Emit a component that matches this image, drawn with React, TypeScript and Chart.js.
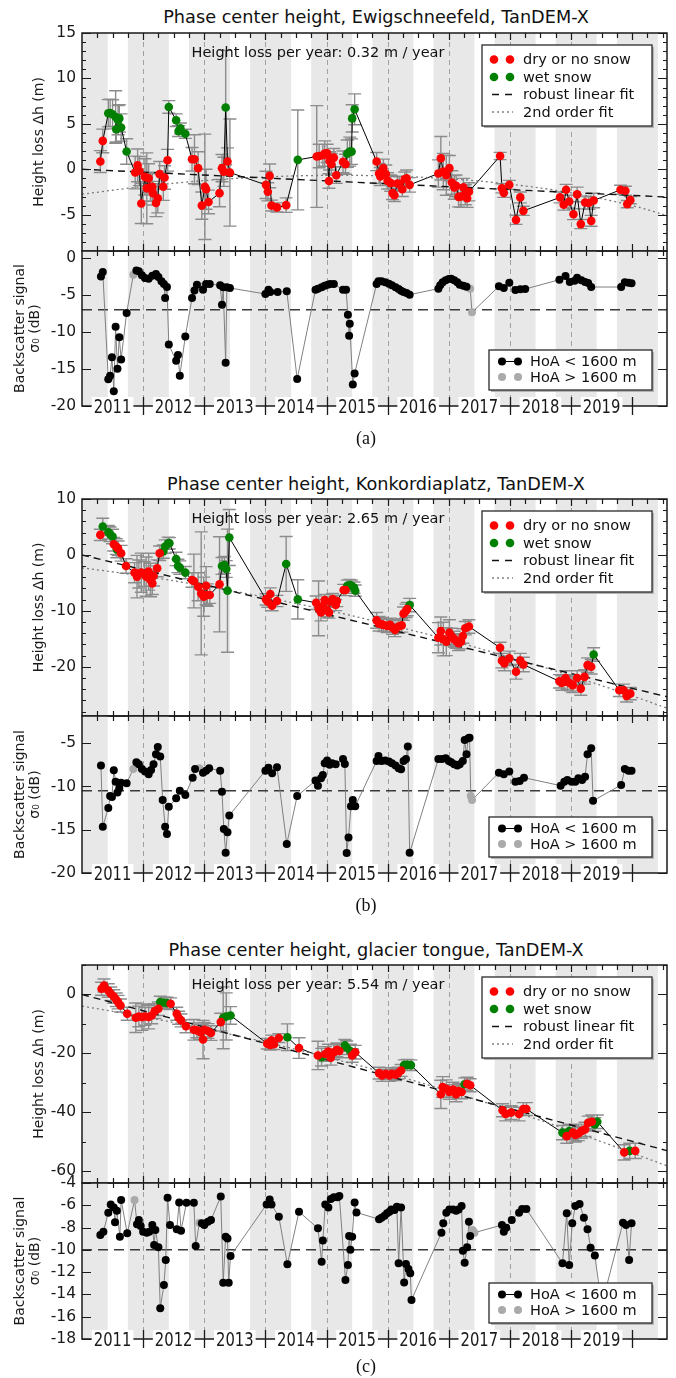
import { useEffect, useRef } from "react";
import { Chart, registerables } from "chart.js";

Chart.register(...registerables);

const SANS = '"DejaVu Sans", "Noto Sans", sans-serif';
const SERIF = '"Liberation Serif", "DejaVu Serif", serif';
Chart.defaults.font.family = SANS;

// ---------- shared time axis (decimal years) ----------
const timeStart = 2011.0;
const timeEnd = 2020.57;
const yearLabels = [2011, 2012, 2013, 2014, 2015, 2016, 2017, 2018, 2019];
const yearMarks = [2012, 2013, 2014, 2015, 2016, 2017, 2018, 2019, 2020];
const newYearGuides = [2012, 2013, 2014, 2015, 2016, 2017, 2018, 2019];
const winterSeasons: [number, number][] = [
  [2010.75, 2011.42], [2011.75, 2012.42], [2012.75, 2013.42], [2013.75, 2014.42],
  [2014.75, 2015.42], [2015.75, 2016.42], [2016.75, 2017.42], [2017.75, 2018.42],
  [2018.75, 2019.42], [2019.75, 2020.42],
];

// [decimal year, height loss (m), ± error (m), wet snow 0/1]
type HeightPt = [number, number, number, number];
// [decimal year, sigma0 (dB), HoA > 1600 m 0/1]
type SigmaPt = [number, number, number];

// ---------- Ewigschneefeld ----------
const ewigRate = 0.32;
const ewigThreshold = -7;
const ewigHeights: HeightPt[] = [
  [2011.30, 0.85, 1.2, 0], [2011.34, 3.12, 1.3, 0], [2011.43, 6.16, 1.5, 1], [2011.46, 6.2, 1.5, 1],
  [2011.50, 6.05, 1.6, 1], [2011.55, 5.75, 2.9, 1], [2011.56, 4.4, 1.4, 1], [2011.59, 5.4, 1.6, 1],
  [2011.61, 5.6, 1.5, 1], [2011.64, 4.6, 1.5, 1], [2011.73, 1.95, 1.4, 1], [2011.87, -0.36, 1.8, 0],
  [2011.91, 0.43, 1.8, 0], [2011.94, -0.2, 1.6, 0], [2011.97, -3.77, 2.2, 0], [2012.03, -0.84, 2.0, 0],
  [2012.06, -2.1, 3.9, 0], [2012.09, -1.0, 1.6, 0], [2012.12, -2.0, 1.5, 0], [2012.15, -1.93, 1.6, 0],
  [2012.16, -2.63, 1.3, 0], [2012.21, -3.72, 1.5, 0], [2012.24, -3.2, 1.6, 0], [2012.27, -0.54, 1.4, 0],
  [2012.33, -1.93, 1.5, 0], [2012.35, -0.91, 1.3, 0], [2012.40, 0.99, 1.2, 0], [2012.42, 6.86, 0.7, 1],
  [2012.54, 5.4, 0.7, 1], [2012.58, 4.2, 0.6, 1], [2012.61, 4.5, 0.6, 1], [2012.69, 3.9, 0.5, 1],
  [2012.80, 1.1, 1.3, 0], [2012.84, 1.1, 2.7, 0], [2012.90, 0.12, 1.8, 0], [2012.96, -4.0, 1.5, 0],
  [2013.01, -1.93, 5.8, 0], [2013.03, -2.2, 2.2, 0], [2013.07, -3.6, 1.3, 0], [2013.25, -2.63, 1.5, 0],
  [2013.29, 0.12, 1.5, 0], [2013.32, -0.28, 1.6, 0], [2013.35, 6.79, 6.3, 1], [2013.38, 0.85, 1.5, 0],
  [2013.42, -0.36, 5.9, 0], [2014.01, -1.72, 1.5, 0], [2014.04, -2.48, 1.0, 0], [2014.07, -0.73, 1.3, 0],
  [2014.10, -4.0, 0.6, 0], [2014.19, -4.2, 0.5, 0], [2014.34, -3.95, 0.8, 0], [2014.53, 1.03, 5.5, 1],
  [2014.84, 1.4, 5.6, 0], [2014.88, 1.46, 1.3, 0], [2014.94, 1.54, 1.2, 0], [2014.97, 1.72, 1.4, 0],
  [2015.01, 1.75, 1.0, 0], [2015.04, -1.29, 0.8, 0], [2015.05, 0.92, 1.0, 0], [2015.08, 0.55, 1.2, 0],
  [2015.12, 1.28, 1.0, 0], [2015.16, -0.66, 0.9, 0], [2015.27, 0.81, 1.2, 0], [2015.31, 0.55, 1.1, 0],
  [2015.34, 1.72, 1.5, 1], [2015.38, 1.94, 1.6, 1], [2015.41, 1.94, 1.4, 1], [2015.42, 5.6, 1.5, 1],
  [2015.46, 6.6, 1.7, 1], [2015.82, 0.85, 1.0, 0], [2015.86, -0.47, 1.1, 0], [2015.88, -0.8, 1.0, 0],
  [2015.93, 0.12, 1.0, 0], [2015.97, -0.54, 1.0, 0], [2016.00, -1.28, 0.9, 0], [2016.05, -1.53, 0.9, 0],
  [2016.08, -2.63, 0.7, 0], [2016.11, -2.85, 0.7, 0], [2016.16, -1.57, 0.8, 0], [2016.19, -1.64, 0.8, 0],
  [2016.24, -2.2, 0.8, 0], [2016.28, -1.1, 0.8, 0], [2016.31, -0.99, 0.9, 0], [2016.36, -1.72, 0.8, 0],
  [2016.83, -0.47, 1.5, 0], [2016.87, 1.21, 2.4, 0], [2016.91, -0.25, 2.0, 0], [2016.96, -0.66, 2.2, 0],
  [2017.01, 0.12, 1.4, 0], [2017.05, -1.46, 1.3, 0], [2017.09, -2.0, 1.3, 0], [2017.12, -1.83, 1.2, 0],
  [2017.16, -3.04, 1.1, 0], [2017.20, -3.0, 1.2, 0], [2017.24, -2.0, 1.0, 0], [2017.27, -2.8, 1.1, 0],
  [2017.30, -3.2, 1.0, 0], [2017.33, -2.48, 1.0, 0], [2017.84, 1.46, 0.4, 0], [2017.87, -2.1, 0.5, 0],
  [2017.90, -2.6, 0.5, 0], [2017.99, -1.72, 0.5, 0], [2018.10, -5.57, 0.5, 0], [2018.17, -3.1, 0.6, 0],
  [2018.22, -4.58, 0.5, 0], [2018.82, -3.1, 0.6, 0], [2018.88, -3.9, 0.6, 0], [2018.92, -2.26, 0.6, 0],
  [2018.97, -3.55, 0.7, 0], [2019.04, -4.95, 0.6, 0], [2019.10, -2.77, 0.8, 0], [2019.16, -6.04, 0.5, 0],
  [2019.23, -3.66, 0.7, 0], [2019.29, -3.72, 0.7, 0], [2019.33, -5.68, 0.6, 0], [2019.37, -3.44, 0.8, 0],
  [2019.81, -2.26, 0.5, 0], [2019.89, -2.37, 0.5, 0], [2019.92, -3.84, 0.4, 0], [2019.97, -3.4, 0.4, 0],
];
const ewigQuadFit: [number, number][] = [
  [2011, -2.75], [2012, -1.9], [2013, -1.25], [2014, -0.85], [2015, -0.68], [2016, -0.75],
  [2017, -1.05], [2018, -1.65], [2019, -2.6], [2020, -4.0], [2020.57, -5.1],
];
const ewigSigma: SigmaPt[] = [
  [2011.31, -2.48, 0], [2011.34, -1.89, 0], [2011.43, -16.4, 0], [2011.46, -15.9, 0], [2011.49, -13.4, 0],
  [2011.52, -18.0, 0], [2011.55, -9.3, 0], [2011.58, -14.96, 0], [2011.61, -10.7, 0], [2011.64, -13.7, 0],
  [2011.73, -7.43, 0], [2011.84, -2.25, 1], [2011.89, -1.67, 0], [2011.93, -1.8, 0], [2011.98, -2.34, 0],
  [2012.03, -2.7, 0], [2012.09, -2.8, 0], [2012.15, -2.39, 0], [2012.21, -2.16, 0], [2012.25, -2.57, 0],
  [2012.30, -3.15, 0], [2012.34, -3.51, 0], [2012.36, -5.4, 0], [2012.39, -3.92, 0], [2012.42, -11.7, 0],
  [2012.54, -13.9, 0], [2012.57, -13.1, 0], [2012.60, -15.9, 0], [2012.69, -10.6, 0], [2012.80, -5.4, 0],
  [2012.84, -4.4, 0], [2012.88, -3.6, 0], [2012.93, -3.8, 1], [2012.98, -4.28, 0], [2013.03, -3.51, 0],
  [2013.09, -3.51, 0], [2013.26, -3.69, 0], [2013.29, -6.3, 0], [2013.31, -3.96, 0], [2013.35, -14.15, 0],
  [2013.37, -3.96, 0], [2013.42, -4.05, 0], [2014.00, -4.86, 0], [2014.05, -4.28, 0], [2014.08, -4.6, 0],
  [2014.20, -4.6, 0], [2014.35, -4.5, 0], [2014.52, -16.35, 0], [2014.82, -4.28, 0], [2014.86, -4.14, 0],
  [2014.92, -3.96, 0], [2014.97, -3.74, 0], [2015.02, -3.6, 0], [2015.06, -3.51, 0], [2015.12, -3.51, 0],
  [2015.27, -4.28, 0], [2015.32, -4.28, 0], [2015.35, -7.66, 0], [2015.37, -10.5, 0], [2015.38, -8.87, 0],
  [2015.43, -17.1, 0], [2015.46, -15.6, 0], [2015.82, -3.51, 0], [2015.85, -3.15, 0], [2015.90, -3.15, 0],
  [2015.96, -3.29, 0], [2016.02, -3.47, 0], [2016.07, -3.69, 0], [2016.13, -3.96, 0], [2016.18, -4.19, 0],
  [2016.22, -4.41, 0], [2016.26, -4.6, 0], [2016.31, -4.73, 0], [2016.36, -4.95, 0], [2016.83, -4.14, 0],
  [2016.86, -3.69, 0], [2016.90, -3.29, 0], [2016.95, -3.02, 0], [2017.00, -2.84, 0], [2017.04, -2.8, 0],
  [2017.09, -3.02, 0], [2017.14, -3.29, 0], [2017.18, -3.6, 0], [2017.24, -3.74, 0], [2017.29, -3.87, 0],
  [2017.35, -4.14, 1], [2017.38, -7.34, 1], [2017.82, -3.83, 0], [2017.90, -4.05, 0], [2017.99, -3.33, 0],
  [2018.09, -4.32, 0], [2018.17, -4.23, 0], [2018.25, -4.19, 0], [2018.81, -2.93, 0], [2018.91, -2.43, 0],
  [2018.98, -3.24, 0], [2019.06, -3.06, 0], [2019.10, -2.66, 0], [2019.17, -3.02, 0], [2019.23, -3.24, 0],
  [2019.28, -3.38, 0], [2019.33, -3.92, 0], [2019.82, -3.92, 0], [2019.88, -3.29, 0], [2019.94, -3.33, 0],
  [2019.99, -3.42, 0],
];

// ---------- Konkordiaplatz ----------
const konkRate = 2.65;
const konkThreshold = -10.5;
const konkHeights: HeightPt[] = [
  [2011.30, 3.58, 1.0, 0], [2011.34, 5.07, 1.5, 1], [2011.43, 4.06, 1.2, 1], [2011.46, 3.7, 1.3, 1],
  [2011.50, 3.29, 1.3, 1], [2011.52, 1.91, 1.2, 0], [2011.56, 1.49, 1.4, 0], [2011.57, 1.0, 1.5, 1],
  [2011.59, 1.19, 1.3, 0], [2011.64, 0.3, 1.4, 0], [2011.72, -1.97, 1.3, 0], [2011.86, -3.17, 1.8, 0],
  [2011.90, -3.88, 3.8, 0], [2011.93, -3.4, 2.5, 0], [2011.97, -3.17, 3.5, 0], [2012.02, -3.4, 2.2, 0],
  [2012.05, -3.88, 3.5, 0], [2012.09, -2.99, 3.3, 0], [2012.12, -4.48, 3.0, 0], [2012.15, -5.08, 2.0, 0],
  [2012.17, -3.76, 1.8, 0], [2012.23, -2.39, 1.5, 0], [2012.27, 0.3, 1.3, 0], [2012.33, 0.6, 1.2, 1],
  [2012.36, 1.49, 1.2, 1], [2012.41, 2.09, 1.1, 1], [2012.43, 2.09, 1.0, 1], [2012.54, -0.72, 1.2, 1],
  [2012.57, -1.97, 1.2, 1], [2012.60, -2.27, 1.2, 1], [2012.69, -3.17, 1.1, 1], [2012.80, -4.48, 1.3, 0],
  [2012.83, -4.66, 4.8, 0], [2012.90, -5.68, 2.5, 0], [2012.95, -6.87, 11.0, 0], [2012.99, -7.47, 3.5, 0],
  [2013.03, -5.5, 3.4, 0], [2013.05, -7.17, 2.0, 0], [2013.09, -7.17, 1.5, 0], [2013.25, -5.26, 8.5, 0],
  [2013.29, -1.97, 1.5, 1], [2013.33, -1.79, 1.5, 1], [2013.36, -2.51, 1.5, 1], [2013.38, -6.39, 11.0, 1],
  [2013.41, 3.11, 5.0, 1], [2014.01, -7.95, 1.0, 0], [2014.04, -8.36, 1.0, 0], [2014.08, -6.99, 1.1, 0],
  [2014.11, -9.08, 0.9, 0], [2014.19, -8.24, 1.0, 0], [2014.34, -1.61, 4.9, 1], [2014.53, -7.95, 3.5, 1],
  [2014.83, -8.55, 1.2, 0], [2014.87, -9.56, 4.9, 0], [2014.91, -10.3, 1.5, 0], [2014.94, -9.14, 1.2, 0],
  [2014.97, -8.06, 1.0, 0], [2015.01, -9.86, 1.2, 0], [2015.04, -10.3, 1.0, 0], [2015.06, -8.36, 1.0, 0],
  [2015.10, -7.89, 1.0, 0], [2015.15, -8.96, 1.0, 0], [2015.17, -8.24, 1.0, 0], [2015.28, -6.27, 1.0, 0],
  [2015.31, -6.27, 1.0, 0], [2015.34, -5.5, 1.0, 1], [2015.38, -5.38, 1.0, 1], [2015.41, -5.5, 1.0, 1],
  [2015.45, -5.85, 1.0, 1], [2015.47, -6.39, 1.0, 1], [2015.82, -11.7, 1.4, 0], [2015.86, -12.3, 1.3, 0],
  [2015.90, -12.4, 1.2, 0], [2015.93, -12.5, 1.2, 0], [2015.99, -12.7, 1.2, 0], [2016.04, -12.5, 1.2, 0],
  [2016.08, -13.0, 1.2, 0], [2016.12, -13.4, 1.2, 0], [2016.18, -12.8, 1.2, 0], [2016.23, -12.6, 1.2, 0],
  [2016.26, -10.5, 1.2, 0], [2016.30, -10.0, 1.2, 0], [2016.32, -9.68, 1.2, 0], [2016.36, -8.96, 1.2, 1],
  [2016.83, -14.8, 2.7, 0], [2016.87, -13.6, 2.5, 0], [2016.91, -15.05, 3.0, 0], [2016.96, -15.5, 2.5, 0],
  [2017.01, -13.9, 2.3, 0], [2017.05, -14.6, 1.5, 0], [2017.09, -15.05, 1.4, 0], [2017.12, -15.4, 1.3, 0],
  [2017.16, -15.8, 1.3, 0], [2017.20, -15.5, 1.3, 0], [2017.23, -14.5, 1.3, 0], [2017.27, -13.1, 1.2, 0],
  [2017.33, -12.8, 1.2, 0], [2017.84, -16.6, 1.0, 0], [2017.87, -18.9, 1.3, 0], [2017.91, -19.4, 1.3, 0],
  [2017.99, -18.5, 1.3, 0], [2018.10, -20.9, 1.3, 0], [2018.17, -18.9, 1.3, 0], [2018.22, -19.6, 1.3, 0],
  [2018.81, -22.6, 1.2, 0], [2018.85, -22.9, 1.3, 0], [2018.91, -22.0, 1.3, 0], [2018.94, -22.7, 1.3, 0],
  [2018.99, -23.0, 1.3, 0], [2019.03, -23.3, 1.3, 0], [2019.10, -22.0, 1.3, 0], [2019.16, -23.9, 1.2, 0],
  [2019.22, -21.8, 1.3, 0], [2019.27, -19.7, 1.3, 0], [2019.33, -20.0, 1.3, 0], [2019.37, -17.8, 1.2, 1],
  [2019.79, -24.2, 1.1, 0], [2019.86, -24.2, 1.1, 0], [2019.91, -25.2, 1.1, 0], [2019.97, -24.8, 1.1, 0],
];
const konkQuadFit: [number, number][] = [
  [2011, -2.3], [2012, -3.79], [2013, -5.55], [2014, -7.57], [2015, -9.85], [2016, -12.4],
  [2017, -15.2], [2018, -18.3], [2019, -21.6], [2020, -25.2], [2020.57, -27.4],
];
const konkSigma: SigmaPt[] = [
  [2011.31, -7.58, 0], [2011.34, -14.65, 0], [2011.43, -12.5, 0], [2011.46, -11.1, 0], [2011.49, -11.2, 0],
  [2011.52, -8.12, 0], [2011.55, -9.44, 0], [2011.58, -10.7, 0], [2011.61, -10.2, 0], [2011.64, -9.56, 0],
  [2011.73, -9.63, 0], [2011.84, -7.97, 1], [2011.89, -7.2, 0], [2011.93, -7.43, 0], [2011.98, -7.97, 0],
  [2012.03, -8.28, 0], [2012.09, -8.59, 0], [2012.13, -8.09, 0], [2012.17, -7.43, 0], [2012.21, -6.27, 0],
  [2012.24, -5.42, 0], [2012.28, -6.54, 0], [2012.32, -11.56, 0], [2012.36, -14.65, 0], [2012.39, -15.5, 0],
  [2012.42, -12.35, 0], [2012.54, -11.37, 0], [2012.60, -10.49, 0], [2012.69, -10.99, 0], [2012.81, -8.98, 0],
  [2012.85, -7.97, 0], [2012.92, -7.9, 1], [2012.98, -8.4, 0], [2013.03, -8.17, 0], [2013.08, -7.9, 0],
  [2013.26, -8.17, 0], [2013.29, -10.6, 0], [2013.32, -14.9, 0], [2013.35, -17.66, 0], [2013.38, -15.3, 0],
  [2013.41, -13.35, 0], [2014.00, -8.17, 0], [2014.05, -7.82, 0], [2014.11, -8.48, 0], [2014.19, -7.78, 0],
  [2014.35, -16.66, 0], [2014.52, -11.1, 0], [2014.82, -9.32, 0], [2014.86, -9.9, 0], [2014.91, -9.05, 0],
  [2014.94, -8.67, 0], [2014.97, -7.32, 0], [2015.01, -7.0, 0], [2015.05, -7.5, 0], [2015.09, -7.32, 0],
  [2015.15, -7.43, 0], [2015.27, -6.81, 0], [2015.30, -7.39, 0], [2015.33, -17.7, 0], [2015.36, -15.9, 0],
  [2015.40, -12.27, 0], [2015.43, -11.57, 0], [2015.47, -12.27, 0], [2015.82, -7.05, 0], [2015.85, -6.46, 0],
  [2015.90, -7.05, 0], [2015.96, -7.0, 0], [2016.02, -7.12, 0], [2016.07, -7.32, 0], [2016.13, -7.58, 0],
  [2016.18, -7.9, 0], [2016.22, -8.0, 0], [2016.26, -7.05, 0], [2016.30, -6.81, 0], [2016.33, -5.38, 0],
  [2016.36, -17.66, 0], [2016.83, -6.81, 0], [2016.89, -6.81, 0], [2016.95, -6.74, 0], [2017.00, -7.05, 0],
  [2017.04, -7.2, 0], [2017.09, -7.43, 0], [2017.14, -7.58, 0], [2017.18, -7.43, 0], [2017.23, -7.05, 0],
  [2017.26, -4.62, 0], [2017.29, -6.27, 0], [2017.32, -4.42, 0], [2017.34, -4.35, 0], [2017.36, -11.1, 1],
  [2017.38, -11.57, 1], [2017.82, -8.4, 0], [2017.90, -8.59, 0], [2017.99, -8.28, 0], [2018.09, -9.44, 0],
  [2018.16, -9.36, 0], [2018.23, -8.98, 0], [2018.83, -9.9, 0], [2018.89, -9.44, 0], [2018.94, -9.25, 0],
  [2019.01, -9.44, 0], [2019.07, -9.44, 0], [2019.12, -9.05, 0], [2019.18, -9.25, 0], [2019.23, -8.86, 0],
  [2019.27, -6.27, 0], [2019.33, -5.57, 0], [2019.36, -11.65, 0], [2019.82, -9.82, 0], [2019.88, -7.97, 0],
  [2019.94, -8.17, 0], [2019.99, -8.17, 0],
];

// ---------- glacier tongue ----------
const tongueRate = 5.54;
const tongueThreshold = -10;
const tongueHeights: HeightPt[] = [
  [2011.32, 1.92, 2.2, 0], [2011.36, 3.05, 2.2, 0], [2011.43, 1.36, 2.3, 0], [2011.47, 0.23, 2.3, 0],
  [2011.52, -0.68, 2.3, 0], [2011.56, -1.81, 2.3, 0], [2011.59, -2.6, 2.3, 0], [2011.63, -3.73, 2.2, 0],
  [2011.74, -6.55, 2.2, 0], [2011.88, -7.91, 5.0, 0], [2011.93, -7.46, 3.5, 0], [2011.98, -7.68, 4.5, 0],
  [2012.03, -7.46, 3.0, 0], [2012.09, -7.68, 4.0, 0], [2012.14, -7.12, 2.8, 0], [2012.19, -5.65, 2.5, 0],
  [2012.25, -4.86, 2.3, 0], [2012.28, -2.6, 2.0, 1], [2012.34, -2.82, 2.0, 1], [2012.39, -2.94, 2.0, 1],
  [2012.45, -3.16, 2.0, 0], [2012.55, -6.55, 2.2, 0], [2012.58, -7.91, 2.2, 0], [2012.62, -8.81, 2.2, 0],
  [2012.70, -10.8, 2.2, 0], [2012.83, -12.0, 3.5, 0], [2012.88, -12.2, 2.5, 0], [2012.94, -12.8, 2.5, 0],
  [2012.98, -15.3, 6.5, 0], [2013.00, -12.0, 2.5, 0], [2013.06, -12.4, 2.5, 0], [2013.11, -13.1, 2.5, 0],
  [2013.27, -9.38, 3.0, 0], [2013.31, -7.91, 10.5, 1], [2013.36, -7.46, 8.0, 1], [2013.43, -7.12, 3.0, 1],
  [2014.03, -16.7, 1.8, 0], [2014.08, -17.1, 1.8, 0], [2014.10, -15.6, 1.8, 0], [2014.14, -16.9, 1.8, 0],
  [2014.22, -14.8, 1.5, 0], [2014.36, -14.5, 4.5, 1], [2014.55, -18.2, 3.5, 0], [2014.86, -20.7, 4.8, 0],
  [2014.92, -21.3, 3.0, 1], [2014.98, -20.2, 2.5, 0], [2015.03, -19.4, 2.5, 0], [2015.07, -21.5, 2.5, 0],
  [2015.12, -19.6, 2.5, 0], [2015.17, -18.8, 2.3, 0], [2015.21, -19.2, 2.3, 0], [2015.30, -17.3, 2.0, 1],
  [2015.33, -18.1, 2.3, 1], [2015.39, -19.2, 2.3, 1], [2015.42, -20.7, 2.3, 0], [2015.47, -19.6, 2.3, 0],
  [2015.86, -26.7, 2.0, 0], [2015.91, -27.5, 2.0, 0], [2015.97, -26.9, 2.0, 0], [2016.03, -27.5, 2.0, 0],
  [2016.07, -26.9, 2.0, 0], [2016.13, -27.2, 2.0, 0], [2016.17, -26.7, 2.0, 0], [2016.22, -25.8, 2.0, 0],
  [2016.27, -24.0, 1.8, 1], [2016.32, -23.9, 1.8, 1], [2016.38, -24.0, 1.8, 1], [2016.87, -33.9, 4.8, 0],
  [2016.90, -31.4, 3.5, 0], [2016.96, -32.0, 3.0, 0], [2017.01, -33.1, 2.5, 0], [2017.07, -32.3, 2.5, 0],
  [2017.12, -33.9, 2.5, 0], [2017.16, -32.8, 2.5, 0], [2017.21, -33.1, 2.3, 0], [2017.26, -30.5, 2.2, 1],
  [2017.30, -30.3, 2.2, 0], [2017.35, -30.8, 2.2, 0], [2017.88, -39.3, 2.2, 0], [2017.93, -40.6, 2.3, 0],
  [2018.02, -40.1, 2.3, 0], [2018.15, -40.6, 2.3, 0], [2018.22, -38.9, 2.2, 0], [2018.27, -38.9, 2.2, 0],
  [2018.86, -46.9, 2.4, 1], [2018.93, -48.1, 2.4, 0], [2018.97, -46.4, 2.4, 1], [2019.03, -46.9, 2.4, 0],
  [2019.07, -47.7, 2.4, 0], [2019.12, -47.2, 2.4, 0], [2019.17, -46.4, 2.4, 0], [2019.23, -45.8, 2.4, 0],
  [2019.28, -43.6, 2.3, 0], [2019.34, -43.2, 2.3, 0], [2019.39, -44.1, 2.3, 1], [2019.43, -43.2, 2.3, 1],
  [2019.87, -53.6, 2.6, 0], [2019.96, -53.1, 2.6, 1], [2020.05, -53.1, 2.6, 0],
];
const tongueQuadFit: [number, number][] = [
  [2011, -3.95], [2012, -7.54], [2013, -11.63], [2014, -16.2], [2015, -21.25], [2016, -26.79],
  [2017, -32.8], [2018, -39.33], [2019, -46.3], [2020, -53.8], [2020.57, -58.2],
];
const tongueSigma: SigmaPt[] = [
  [2011.30, -8.67, 0], [2011.35, -8.37, 0], [2011.43, -6.66, 0], [2011.47, -5.92, 0], [2011.52, -6.19, 0],
  [2011.54, -7.53, 0], [2011.57, -6.48, 0], [2011.62, -8.82, 0], [2011.64, -5.52, 0], [2011.74, -8.52, 0],
  [2011.86, -5.52, 1], [2011.90, -7.71, 0], [2011.93, -7.32, 0], [2011.96, -7.86, 0], [2012.00, -8.37, 0],
  [2012.06, -8.46, 0], [2012.10, -8.37, 0], [2012.15, -7.77, 0], [2012.18, -9.56, 0], [2012.20, -8.22, 0],
  [2012.25, -9.77, 0], [2012.28, -15.25, 0], [2012.34, -13.16, 0], [2012.37, -10.9, 0], [2012.40, -5.32, 0],
  [2012.44, -7.77, 0], [2012.55, -8.16, 0], [2012.59, -5.74, 0], [2012.62, -8.28, 0], [2012.71, -5.77, 0],
  [2012.83, -5.77, 0], [2012.86, -9.66, 0], [2012.92, -7.56, 1], [2012.96, -7.62, 0], [2013.00, -7.77, 0],
  [2013.06, -7.47, 0], [2013.11, -7.32, 0], [2013.27, -5.22, 0], [2013.31, -12.95, 0], [2013.35, -8.82, 0],
  [2013.38, -8.97, 0], [2013.40, -12.95, 0], [2013.43, -10.55, 0], [2014.02, -5.92, 0], [2014.07, -5.47, 0],
  [2014.10, -5.92, 0], [2014.22, -7.03, 0], [2014.36, -11.3, 0], [2014.55, -6.58, 0], [2014.86, -8.07, 0],
  [2014.92, -11.06, 0], [2014.94, -9.17, 0], [2014.98, -5.92, 0], [2015.03, -6.19, 0], [2015.07, -5.44, 0],
  [2015.12, -5.29, 0], [2015.18, -5.29, 0], [2015.21, -5.17, 0], [2015.31, -12.7, 0], [2015.35, -11.36, 0],
  [2015.37, -8.76, 0], [2015.39, -10.0, 0], [2015.42, -8.82, 0], [2015.46, -5.74, 0], [2015.49, -6.64, 0],
  [2015.86, -7.26, 0], [2015.90, -7.11, 0], [2015.95, -6.93, 0], [2015.99, -6.72, 0], [2016.03, -6.58, 0],
  [2016.06, -6.37, 0], [2016.11, -6.43, 0], [2016.15, -6.13, 0], [2016.18, -11.2, 0], [2016.22, -6.19, 0],
  [2016.27, -12.92, 0], [2016.30, -11.27, 0], [2016.34, -11.72, 0], [2016.37, -12.1, 0], [2016.39, -14.5, 0],
  [2016.88, -8.46, 0], [2016.91, -7.62, 0], [2016.96, -6.66, 0], [2017.01, -6.37, 0], [2017.07, -6.37, 0],
  [2017.12, -6.49, 0], [2017.16, -6.37, 0], [2017.21, -6.07, 0], [2017.23, -10.07, 0], [2017.26, -11.15, 0],
  [2017.30, -9.77, 0], [2017.33, -7.47, 0], [2017.35, -8.76, 0], [2017.39, -8.22, 1], [2017.42, -8.46, 1],
  [2017.87, -7.77, 0], [2017.90, -8.37, 0], [2017.94, -8.01, 0], [2018.03, -7.32, 0], [2018.15, -6.66, 0],
  [2018.20, -6.34, 0], [2018.27, -6.34, 0], [2018.86, -11.2, 0], [2018.93, -6.72, 0], [2018.97, -11.36, 0],
  [2019.02, -7.62, 0], [2019.07, -6.07, 0], [2019.14, -5.89, 0], [2019.21, -7.11, 0], [2019.27, -8.16, 0],
  [2019.32, -9.8, 0], [2019.39, -10.5, 0], [2019.50, -15.0, 0], [2019.85, -7.56, 0], [2019.90, -7.77, 0],
  [2019.95, -10.9, 0], [2019.99, -7.62, 0],
];

// ---------- panel layout ----------
interface Panel {
  title: string;
  caption: string;
  rate: number;
  heights: HeightPt[];
  quadFit: [number, number][];
  sigma: SigmaPt[];
  threshold: number;
  hRange: [number, number];
  hStep: number;
  hMinor: number;
  sRange: [number, number];
  sStep: number;
  sMinor: number;
  titleY: number;
  topY: number;
  midY: number;
  bottomY: number;
  captionY: number;
}

const panels: Panel[] = [
  {
    title: "Phase center height, Ewigschneefeld, TanDEM-X", caption: "(a)",
    rate: ewigRate, heights: ewigHeights, quadFit: ewigQuadFit, sigma: ewigSigma, threshold: ewigThreshold,
    hRange: [-9, 15], hStep: 5, hMinor: 1, sRange: [-20, 0.95], sStep: 5, sMinor: 5,
    titleY: 16.5, topY: 33, midY: 251, bottomY: 406, captionY: 438,
  },
  {
    title: "Phase center height, Konkordiaplatz, TanDEM-X", caption: "(b)",
    rate: konkRate, heights: konkHeights, quadFit: konkQuadFit, sigma: konkSigma, threshold: konkThreshold,
    hRange: [-28.8, 10], hStep: 10, hMinor: 2, sRange: [-20, -1.85], sStep: 5, sMinor: 5,
    titleY: 484, topY: 499, midY: 716, bottomY: 873, captionY: 905,
  },
  {
    title: "Phase center height, glacier tongue, TanDEM-X", caption: "(c)",
    rate: tongueRate, heights: tongueHeights, quadFit: tongueQuadFit, sigma: tongueSigma, threshold: tongueThreshold,
    hRange: [-64, 10], hStep: 20, hMinor: 10, sRange: [-18, -4], sStep: 2, sMinor: 2,
    titleY: 950, topY: 965, midY: 1183, bottomY: 1339, captionY: 1366,
  },
];

const PAD = 20;
const WIDTH = 676;
const AXIS_W = 82;
const RIGHT_PAD = 9;
const INK = "#1a1a1a";

// ---------- drawing helpers ----------
function clipArea(ctx: CanvasRenderingContext2D, a: any) {
  ctx.beginPath();
  ctx.rect(a.left, a.top, a.right - a.left, a.bottom - a.top);
  ctx.clip();
}

function drawSeasons(chart: any) {
  const { ctx, chartArea: a } = chart;
  const x = chart.scales.x;
  ctx.save();
  clipArea(ctx, a);
  ctx.fillStyle = "#e8e8e8";
  for (const [s, e] of winterSeasons) {
    const x0 = x.getPixelForValue(s);
    const x1 = x.getPixelForValue(e);
    ctx.fillRect(x0, a.top, x1 - x0, a.bottom - a.top);
  }
  ctx.strokeStyle = "#a0a0a0";
  ctx.lineWidth = 1;
  ctx.setLineDash([5, 4]);
  for (const g of newYearGuides) {
    const px = Math.round(x.getPixelForValue(g)) + 0.5;
    ctx.beginPath();
    ctx.moveTo(px, a.top);
    ctx.lineTo(px, a.bottom);
    ctx.stroke();
  }
  ctx.restore();
}

function drawErrorBars(chart: any, pts: HeightPt[]) {
  const { ctx, chartArea: a } = chart;
  const x = chart.scales.x;
  const y = chart.scales.y;
  ctx.save();
  clipArea(ctx, a);
  ctx.strokeStyle = "#8c8c8c";
  ctx.lineWidth = 1.4;
  ctx.beginPath();
  for (const [t, h, e] of pts) {
    const px = x.getPixelForValue(t);
    const y0 = y.getPixelForValue(h + e);
    const y1 = y.getPixelForValue(h - e);
    ctx.moveTo(px, y0);
    ctx.lineTo(px, y1);
    ctx.moveTo(px - 6.5, y0);
    ctx.lineTo(px + 6.5, y0);
    ctx.moveTo(px - 6.5, y1);
    ctx.lineTo(px + 6.5, y1);
  }
  ctx.stroke();
  ctx.restore();
}

function drawThreshold(chart: any, level: number) {
  const { ctx, chartArea: a } = chart;
  const py = chart.scales.y.getPixelForValue(level);
  ctx.save();
  ctx.strokeStyle = "#3a3a3a";
  ctx.lineWidth = 1.5;
  ctx.setLineDash([10, 6]);
  ctx.beginPath();
  ctx.moveTo(a.left, py);
  ctx.lineTo(a.right, py);
  ctx.stroke();
  ctx.restore();
}

function drawFrame(chart: any, minor: number, major: number, lower: boolean) {
  const { ctx, chartArea: a } = chart;
  const x = chart.scales.x;
  const y = chart.scales.y;
  ctx.save();
  ctx.strokeStyle = INK;
  ctx.lineWidth = 1.2;
  ctx.beginPath();
  const first = Math.ceil(y.min / minor - 1e-6) * minor;
  for (let v = first; v <= y.max + 1e-6; v += minor) {
    const r = v / major;
    const isMajor = Math.abs(r - Math.round(r)) < 1e-6;
    const len = isMajor ? 9 : 4;
    const py = Math.round(y.getPixelForValue(v)) + 0.5;
    ctx.moveTo(a.left, py);
    ctx.lineTo(a.left + len, py);
    ctx.moveTo(a.right, py);
    ctx.lineTo(a.right - len, py);
  }
  for (let k = 1; timeStart + k * 0.25 < timeEnd; k++) {
    const q = timeStart + k * 0.25;
    const len = k % 4 === 0 ? 7 : 5;
    const px = Math.round(x.getPixelForValue(q)) + 0.5;
    ctx.moveTo(px, a.top);
    ctx.lineTo(px, a.top + len);
    if (!lower) {
      ctx.moveTo(px, a.bottom);
      ctx.lineTo(px, a.bottom - len);
    }
  }
  ctx.stroke();
  ctx.lineWidth = 1.5;
  ctx.strokeRect(a.left, a.top, a.right - a.left, a.bottom - a.top);
  ctx.restore();
}

// year names sit on the bottom axis line, in a tall narrow face
function drawYearAxis(chart: any) {
  const { ctx, chartArea: a } = chart;
  const x = chart.scales.x;
  const squeeze = 0.74;
  ctx.save();
  ctx.font = `20px ${SANS}`;
  ctx.textAlign = "center";
  ctx.textBaseline = "middle";
  for (const yr of yearLabels) {
    const label = String(yr);
    const px = x.getPixelForValue(yr + 0.5);
    const w = ctx.measureText(label).width * squeeze;
    ctx.fillStyle = "#ffffff";
    ctx.fillRect(px - w / 2 - 2, a.bottom - 9, w + 4, 19);
    ctx.save();
    ctx.translate(px, a.bottom + 1.5);
    ctx.scale(squeeze, 1);
    ctx.fillStyle = INK;
    ctx.fillText(label, 0, 0);
    ctx.restore();
  }
  ctx.strokeStyle = INK;
  ctx.lineWidth = 1.3;
  ctx.beginPath();
  for (const m of yearMarks) {
    const px = Math.round(x.getPixelForValue(m)) + 0.5;
    ctx.moveTo(px, a.bottom - 9);
    ctx.lineTo(px, a.bottom + 9);
  }
  ctx.stroke();
  ctx.restore();
}

function legendBox(ctx: CanvasRenderingContext2D, x0: number, y0: number, w: number, h: number) {
  ctx.fillStyle = "#b4b4b4";
  ctx.fillRect(x0 + 2, y0 + 2, w, h);
  ctx.fillStyle = "#ffffff";
  ctx.fillRect(x0, y0, w, h);
  ctx.strokeStyle = "#2a2a2a";
  ctx.lineWidth = 1.3;
  ctx.strokeRect(x0, y0, w, h);
}

function dot(ctx: CanvasRenderingContext2D, cx: number, cy: number, r: number, color: string) {
  ctx.fillStyle = color;
  ctx.beginPath();
  ctx.arc(cx, cy, r, 0, Math.PI * 2);
  ctx.fill();
}

function drawHeightLegend(chart: any) {
  const { ctx, chartArea: a } = chart;
  const x0 = a.right - 185;
  const y0 = a.top + 12;
  ctx.save();
  legendBox(ctx, x0, y0, 170, 81);
  const rows = [y0 + 14.5, y0 + 32, y0 + 49.5, y0 + 67];
  dot(ctx, x0 + 12, rows[0], 4.3, "#ff0000");
  dot(ctx, x0 + 28, rows[0], 4.3, "#ff0000");
  dot(ctx, x0 + 12, rows[1], 4.3, "#008000");
  dot(ctx, x0 + 28, rows[1], 4.3, "#008000");
  ctx.strokeStyle = "#111111";
  ctx.lineWidth = 1.5;
  ctx.beginPath();
  ctx.moveTo(x0 + 10, rows[2]);
  ctx.lineTo(x0 + 17, rows[2]);
  ctx.moveTo(x0 + 23, rows[2]);
  ctx.lineTo(x0 + 30, rows[2]);
  ctx.stroke();
  ctx.strokeStyle = "#808080";
  ctx.lineWidth = 1.3;
  ctx.setLineDash([2, 3]);
  ctx.beginPath();
  ctx.moveTo(x0 + 10, rows[3]);
  ctx.lineTo(x0 + 31, rows[3]);
  ctx.stroke();
  ctx.setLineDash([]);
  ctx.fillStyle = "#111111";
  ctx.font = `14.5px ${SANS}`;
  ctx.textAlign = "left";
  ctx.textBaseline = "middle";
  const labels = ["dry or no snow", "wet snow", "robust linear fit", "2nd order fit"];
  labels.forEach((t, i) => ctx.fillText(t, x0 + 41, rows[i] + 1));
  ctx.restore();
}

function drawSigmaLegend(chart: any) {
  const { ctx, chartArea: a } = chart;
  const x0 = a.right - 178;
  const y0 = a.bottom - 56;
  ctx.save();
  legendBox(ctx, x0, y0, 163, 40);
  const r1 = y0 + 11.5;
  const r2 = y0 + 27;
  ctx.strokeStyle = "#000000";
  ctx.lineWidth = 1;
  ctx.beginPath();
  ctx.moveTo(x0 + 13, r1);
  ctx.lineTo(x0 + 29, r1);
  ctx.stroke();
  dot(ctx, x0 + 13, r1, 4, "#000000");
  dot(ctx, x0 + 29, r1, 4, "#000000");
  dot(ctx, x0 + 13, r2, 4, "#aaaaaa");
  dot(ctx, x0 + 29, r2, 4, "#aaaaaa");
  ctx.fillStyle = "#111111";
  ctx.font = `14.5px ${SANS}`;
  ctx.textAlign = "left";
  ctx.textBaseline = "middle";
  ctx.fillText("HoA < 1600 m", x0 + 41, r1 + 1);
  ctx.fillText("HoA > 1600 m", x0 + 41, r2 + 1);
  ctx.restore();
}

function drawRateNote(chart: any, rate: number) {
  const { ctx, chartArea: a } = chart;
  ctx.save();
  ctx.fillStyle = "#111111";
  ctx.font = `14.5px ${SANS}`;
  ctx.textAlign = "center";
  ctx.textBaseline = "middle";
  ctx.fillText(`Height loss per year: ${rate.toFixed(2)} m / year`, 318, a.top + 20);
  ctx.restore();
}

function yAxis(range: [number, number], step: number, title: string | string[], titlePad: number) {
  return {
    type: "linear",
    position: "left",
    min: range[0],
    max: range[1],
    afterFit: (s: any) => {
      s.width = AXIS_W;
    },
    grid: { display: false, drawTicks: false },
    border: { display: false },
    ticks: {
      stepSize: step,
      includeBounds: false,
      padding: 6,
      color: INK,
      font: { family: SANS, size: 15.5 },
      callback: (v: number) => String(Math.round(v * 100) / 100),
    },
    title: {
      display: true,
      text: title,
      color: INK,
      font: { family: SANS, size: 14, lineHeight: 1.08 },
      padding: { top: titlePad, bottom: 0 },
    },
  };
}

const xAxis = { type: "linear", min: timeStart, max: timeEnd, display: false };

function makeHeightChart(canvas: HTMLCanvasElement, p: Panel) {
  const xy = (q: number[]) => ({ x: q[0], y: q[1] });
  const linearFit = [
    { x: timeStart, y: 0 },
    { x: timeEnd, y: -p.rate * (timeEnd - timeStart) },
  ];
  return new Chart(canvas, {
    type: "line",
    data: {
      datasets: [
        {
          label: "dry or no snow",
          data: p.heights.filter((q) => !q[3]).map(xy),
          showLine: false,
          pointRadius: 4.3,
          pointBackgroundColor: "#ff0000",
          pointBorderColor: "#ff0000",
          pointBorderWidth: 0,
          order: 0,
        },
        {
          label: "wet snow",
          data: p.heights.filter((q) => q[3]).map(xy),
          showLine: false,
          pointRadius: 4.3,
          pointBackgroundColor: "#008000",
          pointBorderColor: "#008000",
          pointBorderWidth: 0,
          order: 0,
        },
        {
          label: "robust linear fit",
          data: linearFit,
          borderColor: "#111111",
          borderWidth: 1.4,
          borderDash: [7, 5],
          pointRadius: 0,
          order: 1,
        },
        {
          label: "2nd order fit",
          data: p.quadFit.map(xy),
          borderColor: "#7a7a7a",
          borderWidth: 1.3,
          borderDash: [2, 3],
          pointRadius: 0,
          tension: 0.4,
          order: 1,
        },
        {
          label: "series",
          data: p.heights.map(xy),
          borderColor: "#000000",
          borderWidth: 1,
          pointRadius: 0,
          order: 2,
        },
      ],
    },
    options: {
      responsive: false,
      animation: false,
      events: [],
      layout: { padding: { top: PAD, bottom: PAD, left: 0, right: RIGHT_PAD } },
      plugins: { legend: { display: false }, tooltip: { enabled: false } },
      scales: {
        x: xAxis,
        y: yAxis(p.hRange, p.hStep, "Height loss \u0394h (m)", 32),
      },
    },
    plugins: [
      {
        id: "heightDecor",
        beforeDatasetsDraw(chart: any) {
          drawSeasons(chart);
          drawErrorBars(chart, p.heights);
        },
        afterDatasetsDraw(chart: any) {
          drawRateNote(chart, p.rate);
          drawHeightLegend(chart);
          drawFrame(chart, p.hMinor, p.hStep, false);
        },
      },
    ],
  } as any);
}

function makeSigmaChart(canvas: HTMLCanvasElement, p: Panel) {
  const xy = (q: number[]) => ({ x: q[0], y: q[1] });
  return new Chart(canvas, {
    type: "line",
    data: {
      datasets: [
        {
          label: "HoA < 1600 m",
          data: p.sigma.filter((q) => !q[2]).map(xy),
          showLine: false,
          pointRadius: 4,
          pointBackgroundColor: "#000000",
          pointBorderColor: "#000000",
          pointBorderWidth: 0,
          order: 0,
        },
        {
          label: "HoA > 1600 m",
          data: p.sigma.filter((q) => q[2]).map(xy),
          showLine: false,
          pointRadius: 4,
          pointBackgroundColor: "#aaaaaa",
          pointBorderColor: "#aaaaaa",
          pointBorderWidth: 0,
          order: 0,
        },
        {
          label: "series",
          data: p.sigma.map(xy),
          borderColor: "#808080",
          borderWidth: 1,
          pointRadius: 0,
          order: 2,
        },
      ],
    },
    options: {
      responsive: false,
      animation: false,
      events: [],
      layout: { padding: { top: PAD, bottom: PAD, left: 0, right: RIGHT_PAD } },
      plugins: { legend: { display: false }, tooltip: { enabled: false } },
      scales: {
        x: xAxis,
        y: yAxis(p.sRange, p.sStep, ["Backscatter signal", "\u03c3\u2080 (dB)"], 13),
      },
    },
    plugins: [
      {
        id: "sigmaDecor",
        beforeDatasetsDraw(chart: any) {
          drawSeasons(chart);
          drawThreshold(chart, p.threshold);
        },
        afterDatasetsDraw(chart: any) {
          drawSigmaLegend(chart);
          drawFrame(chart, p.sMinor, p.sStep, true);
          drawYearAxis(chart);
        },
      },
    ],
  } as any);
}

function PlotCanvas({ panel, part }: { panel: Panel; part: "height" | "sigma" }) {
  const ref = useRef<HTMLCanvasElement | null>(null);
  useEffect(() => {
    if (!ref.current) return;
    const chart = part === "height" ? makeHeightChart(ref.current, panel) : makeSigmaChart(ref.current, panel);
    return () => chart.destroy();
  }, [panel, part]);
  const top = part === "height" ? panel.topY - PAD : panel.midY - PAD;
  const h = part === "height" ? panel.midY - panel.topY + 2 * PAD : panel.bottomY - panel.midY + 2 * PAD;
  return (
    <canvas
      ref={ref}
      width={WIDTH}
      height={h}
      style={{ position: "absolute", left: 0, top, width: WIDTH, height: h }}
    />
  );
}

export default function App() {
  return (
    <div
      style={{
        position: "absolute",
        left: 0,
        top: 0,
        width: WIDTH,
        height: 1378,
        background: "#ffffff",
        overflow: "hidden",
      }}
    >
      {panels.map((p) => (
        <div key={p.caption}>
          <div
            style={{
              position: "absolute",
              left: 0,
              width: 752,
              top: p.titleY - 12,
              height: 24,
              lineHeight: "24px",
              textAlign: "center",
              fontFamily: SANS,
              fontSize: 17.7,
              color: "#111",
              whiteSpace: "nowrap",
            }}
          >
            {p.title}
          </div>
          <PlotCanvas panel={p} part="height" />
          <PlotCanvas panel={p} part="sigma" />
          <div
            style={{
              position: "absolute",
              left: 0,
              width: 732,
              top: p.captionY - 12,
              height: 24,
              lineHeight: "24px",
              textAlign: "center",
              fontFamily: SERIF,
              fontSize: 18,
              color: "#111",
            }}
          >
            {p.caption}
          </div>
        </div>
      ))}
    </div>
  );
}
